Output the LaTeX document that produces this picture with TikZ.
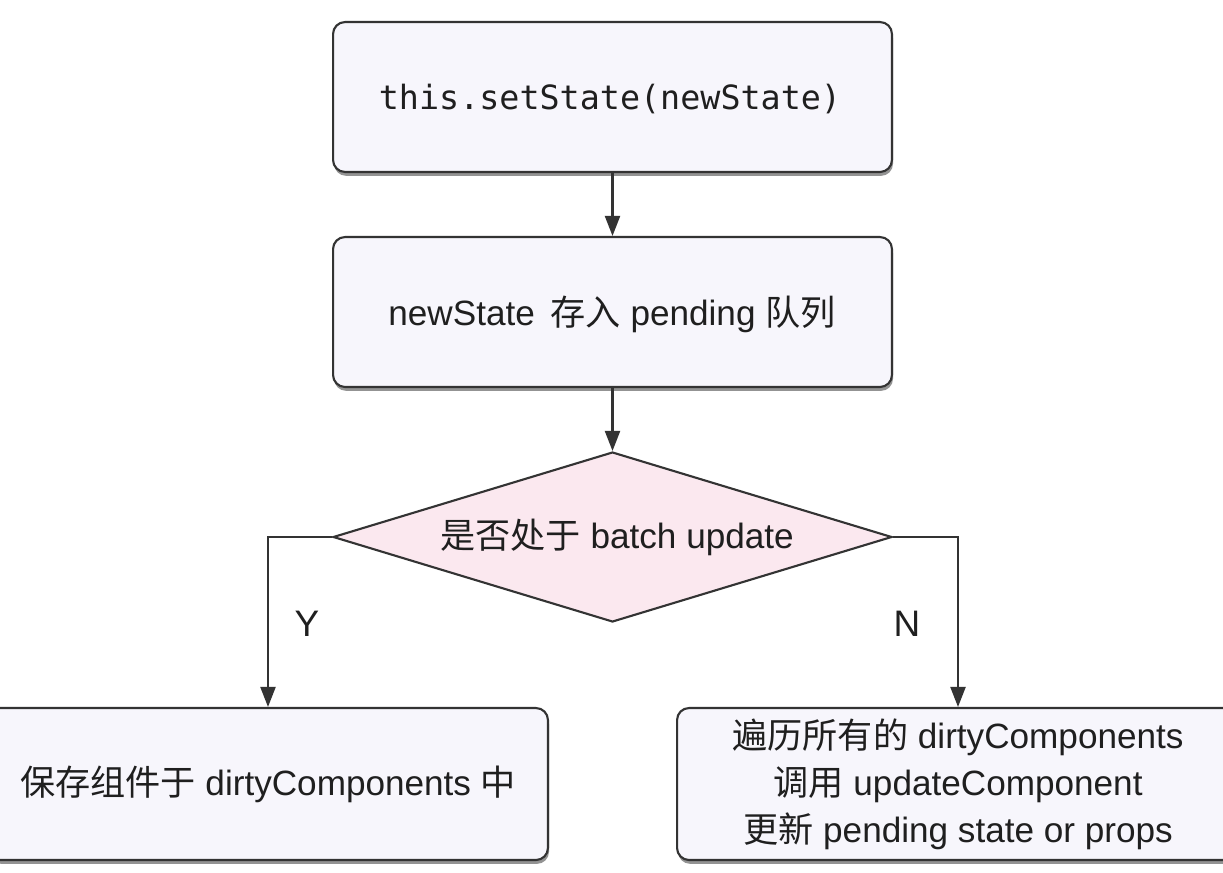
\documentclass[tikz,border=0pt]{standalone}
\usepackage{fontspec}
\setmainfont{Liberation Sans}
\setmonofont{DejaVu Sans Mono}
\newfontfamily\cjk{Noto Sans CJK SC}
\usetikzlibrary{shapes.geometric,arrows.meta,shadows}
\definecolor{boxfill}{HTML}{F7F6FC}
\definecolor{diafill}{HTML}{FBE8EF}
\definecolor{edge}{HTML}{333333}
\tikzset{
  flowbox/.style={draw=edge, line width=1.2pt, fill=boxfill, rounded corners=0.24cm,
    minimum width=11.18cm, minimum height=3cm, inner sep=0pt,
    drop shadow={shadow xshift=0.6pt, shadow yshift=-2.2pt, fill=black!60, opacity=0.7}},
  decide/.style={diamond, draw=edge, line width=1.2pt, fill=diafill, inner sep=0pt,
    minimum width=11.18cm, minimum height=3.4cm},
  flowtext/.style={font=\fontsize{20pt}{26.7pt}\selectfont, align=center, text=black!88},
  codetext/.style={font=\ttfamily\fontsize{19pt}{22pt}\selectfont, text=black!88},
  yn/.style={font=\fontsize{21pt}{24pt}\selectfont, text=black!88},
  conn/.style={draw=edge, line width=1.2pt, -{Triangle[length=4mm,width=3mm]}}
}
\begin{document}
\begin{tikzpicture}[x=0.02cm,y=-0.02cm]
\useasboundingbox (0,0) rectangle (1223,872);
\clip (0,0) rectangle (1223,872);
\fill[white] (0,0) rectangle (1223,872);
\node[flowbox] (b1) at (612.5,97) {};
\node[codetext] (t1) at (610,99) {this.setState(newState)};
\node[flowbox] (b2) at (612.5,312) {};
\node[flowtext] (t2) at (612,314) {newState\, {\cjk 存入} pending {\cjk 队列}};
\node[decide] (d) at (612.5,537) {};
\node[flowtext] (dt) at (617,537) {{\cjk 是否处于} batch update};
\node[flowbox, minimum width=11.2cm, minimum height=3.04cm] (L) at (268,784) {};
\node[flowtext] (lt) at (L.center) {{\cjk 保存组件于} dirtyComponents {\cjk 中}};
\node[flowbox, minimum width=11.24cm, minimum height=3.04cm] (R) at (958,784) {};
\node[flowtext] (rt) at (R.center) {{\cjk 遍历所有的} dirtyComponents\\{\cjk 调用} updateComponent\\{\cjk 更新} pending state or props};
\draw[conn] (b1.south) -- (b2.north);
\draw[conn] (b2.south) -- (d.north);
\draw[conn] (d.west) -| (L.north);
\draw[conn] (d.east) -| (R.north);
\node[yn] (y) at (307,624) {Y};
\node[yn] (n) at (907,624) {N};
\end{tikzpicture}
\end{document}
